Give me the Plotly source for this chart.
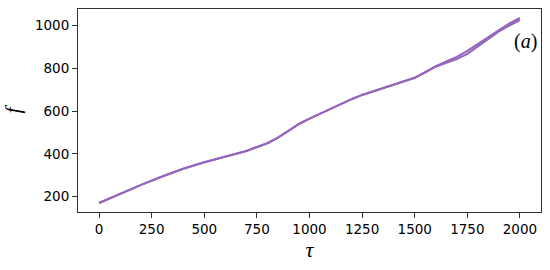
import plotly.graph_objects as go

tau = [0, 100, 200, 300, 400, 500, 600, 700, 800, 850, 900, 950, 1000, 1100,
       1200, 1250, 1300, 1400, 1500, 1550, 1600, 1650, 1700, 1750, 1800, 1850,
       1900, 1950, 2000]
f_a = [170, 213, 255, 294, 330, 361, 386, 413, 450, 476, 508, 540, 565, 612,
       656, 676, 692, 724, 756, 782, 810, 832, 854, 882, 914, 948, 981, 1010, 1036]
f_b = [170, 213, 255, 294, 330, 361, 386, 413, 450, 476, 508, 540, 565, 612,
       656, 676, 692, 724, 756, 782, 808, 826, 844, 868, 902, 938, 973, 1001, 1026]

x_ticks = [0, 250, 500, 750, 1000, 1250, 1500, 1750, 2000]
y_ticks = [200, 400, 600, 800, 1000]

color = "#9467bd"
fig = go.Figure()
for vals in (f_a, f_b):
    fig.add_trace(go.Scatter(x=tau, y=vals, mode="lines",
                             line=dict(color=color, width=2.1),
                             showlegend=False, hoverinfo="skip"))

axis_common = dict(showline=True, linecolor="#333333", linewidth=1, mirror=True,
                   ticks="outside", ticklen=5, tickwidth=1, tickcolor="#333333",
                   showgrid=False, zeroline=False,
                   tickfont=dict(family="DejaVu Sans", size=13.5, color="#000000"))

fig.update_layout(
    width=550, height=270,
    margin=dict(l=78, r=9, t=9, b=58),
    paper_bgcolor="white", plot_bgcolor="white",
    xaxis=dict(range=[-100, 2100], tickvals=x_ticks, **axis_common,
               title=dict(text="<i>τ</i>", font=dict(family="Liberation Serif", size=22, color="#000000"),
                          standoff=5)),
    yaxis=dict(range=[128, 1078], tickvals=y_ticks, **axis_common,
               title=dict(text="<i>f</i>", font=dict(family="Liberation Serif", size=22, color="#000000"),
                          standoff=10)),
    annotations=[dict(x=1, y=0.84, xref="paper", yref="paper", xanchor="right", yanchor="middle",
                      text="(<i>a</i>)", showarrow=False, xshift=-2,
                      font=dict(family="Liberation Serif", size=20, color="#000000"))],
)

fig.write_html("out.html", config={"displayModeBar": False},
               post_script="document.body.style.margin='0';")
